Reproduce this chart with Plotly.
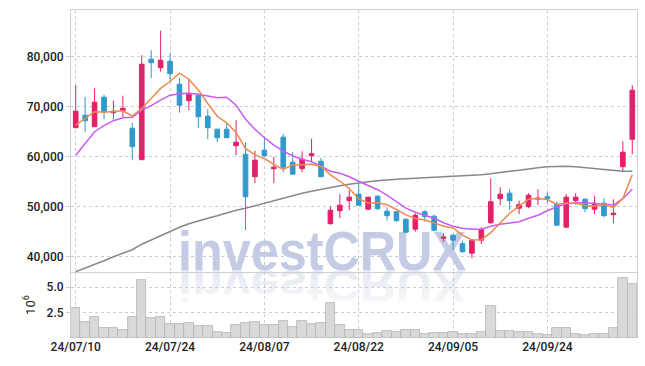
import base64
import plotly.graph_objects as go

dates = [
    "24/07/10", "24/07/11", "24/07/12", "24/07/15", "24/07/16", "24/07/17", "24/07/18", "24/07/19", "24/07/22", "24/07/23",
    "24/07/24", "24/07/25", "24/07/26", "24/07/29", "24/07/30", "24/07/31", "24/08/01", "24/08/02", "24/08/05", "24/08/06",
    "24/08/07", "24/08/08", "24/08/09", "24/08/12", "24/08/13", "24/08/14", "24/08/16", "24/08/19", "24/08/20", "24/08/21",
    "24/08/22", "24/08/23", "24/08/26", "24/08/27", "24/08/28", "24/08/29", "24/08/30", "24/09/02", "24/09/03", "24/09/04",
    "24/09/05", "24/09/06", "24/09/09", "24/09/10", "24/09/11", "24/09/12", "24/09/13", "24/09/19", "24/09/20", "24/09/23",
    "24/09/24", "24/09/25", "24/09/26", "24/09/27", "24/09/30", "24/10/02", "24/10/04", "24/10/07", "24/10/08", "24/10/10",
]
tick_labels = ["24/07/10", "24/07/24", "24/08/07", "24/08/22", "24/09/05", "24/09/24"]

open_ = [65800, 68300, 66000, 71900, 68800, 69200, 65700, 59400, 79500, 77800,
         79100, 74500, 71200, 72300, 68100, 65500, 65500, 62200, 60500, 56000,
         61300, 57600, 63900, 58900, 57600, 60200, 59100, 46600, 49200, 51200,
         52500, 49500, 52100, 49100, 49000, 47500, 45500, 49000, 48100, 43700,
         44300, 42600, 40700, 43300, 46800, 51600, 52700, 49700, 50000, 51500,
         52000, 50500, 45900, 51200, 51500, 49500, 50700, 48400, 58000, 63500]
high = [74300, 72000, 73700, 72400, 71200, 72200, 66800, 80300, 81300, 85200,
        80700, 75700, 75500, 72600, 69500, 65600, 66800, 67300, 62900, 61200,
        64000, 60000, 64500, 60900, 61100, 63600, 59800, 50100, 52500, 53300,
        54700, 52000, 52300, 49900, 49100, 47600, 48700, 49300, 48400, 44700,
        44500, 43200, 43500, 45900, 55700, 53900, 53500, 51200, 52700, 53500,
        52900, 51000, 52500, 52700, 51700, 52200, 51700, 51500, 63100, 74300]
low = [65700, 65000, 65900, 67500, 67500, 67900, 59300, 59400, 75700, 77000,
       75000, 68800, 69300, 65700, 63500, 62900, 63700, 60300, 45300, 54700,
       60000, 54700, 56900, 56400, 56900, 59000, 55900, 46400, 47700, 49300,
       50200, 49300, 49300, 47200, 47000, 44800, 45000, 47000, 45100, 43000,
       41300, 40800, 39700, 42500, 46500, 50300, 49300, 48500, 49700, 50300,
       50700, 46200, 45700, 50400, 48900, 48500, 47900, 46700, 56900, 60500]
close = [69100, 67200, 70900, 69000, 69100, 69700, 62000, 78500, 78800, 79300,
         76600, 70300, 72500, 68000, 65800, 63800, 63800, 62900, 52000, 59300,
         60200, 57900, 57900, 56500, 59500, 60600, 56000, 49300, 50300, 51900,
         50300, 51900, 49600, 48200, 47200, 44900, 48300, 48000, 45300, 43900,
         43300, 41000, 43300, 45500, 51000, 52500, 51200, 50400, 52300, 51700,
         51600, 46300, 51900, 51900, 49600, 50700, 48200, 48700, 60900, 73300]

ma_short = [66300, 67600, 69000, 68900, 69060, 69180, 68140, 69660, 71620, 73660,
            75040, 76700, 75500, 73340, 70640, 68080, 66780, 64860, 61660, 60360,
            59640, 58460, 57460, 58360, 58400, 58480, 58100, 56380, 55140, 53620,
            51560, 50740, 50800, 50380, 49440, 48360, 47640, 47320, 46740, 46080,
            45760, 44300, 43360, 43400, 44820, 46660, 48700, 50120, 51480, 51620,
            51440, 50460, 50760, 50680, 50260, 50080, 50460, 49820, 51620, 56360]
ma_mid = [60300, 62700, 65000, 66200, 67200, 67800, 67900, 69300, 70200, 71300,
          72300, 72600, 72700, 72500, 72100, 71800, 71900, 70300, 67500, 65500,
          63800, 62300, 61100, 60200, 59500, 59000, 58100, 57100, 56700, 56000,
          55100, 54300, 53400, 52300, 51000, 49700, 48900, 48300, 47700, 46800,
          46100, 45700, 45500, 45500, 46100, 46500, 46800, 47000, 47700, 48300,
          49200, 50000, 50600, 50800, 50800, 50700, 50500, 50300, 51600, 53500]
ma_long = [37000, 37700, 38500, 39200, 40000, 40700, 41400, 42500, 43340, 44300,
           45150, 45900, 46600, 47200, 47700, 48200, 48800, 49300, 49700, 50200,
           50700, 51300, 51700, 52200, 52700, 53100, 53500, 53900, 54200, 54500,
           54800, 55000, 55200, 55400, 55500, 55600, 55700, 55800, 55900, 56000,
           56100, 56150, 56200, 56400, 56600, 56900, 57100, 57300, 57600, 57800,
           58000, 58100, 58100, 58000, 57800, 57600, 57400, 57200, 57100, 57100]

volume_m = [2.93, 1.58, 2.04, 0.96, 0.96, 0.76, 2.04, 5.70, 1.94, 2.04,
            1.38, 1.38, 1.45, 1.15, 1.15, 0.59, 0.46, 1.25, 1.45, 1.55,
            1.25, 1.25, 1.65, 1.05, 1.65, 1.38, 1.45, 3.42, 1.25, 0.79,
            0.79, 0.39, 0.52, 0.72, 0.62, 0.79, 0.79, 0.39, 0.52, 0.52,
            0.62, 0.39, 0.39, 0.62, 3.16, 0.72, 0.72, 0.58, 0.58, 0.39,
            0.26, 0.98, 0.98, 0.39, 0.26, 0.39, 0.39, 0.98, 5.92, 5.33]

UP = "#e4206b"
DOWN = "#3399cc"
GRID = "#c9ccdf"
FRAME = "#d0d0d0"
FONT = "Roboto"

fig = go.Figure()

fig.add_trace(go.Scatter(x=dates, y=ma_long, mode="lines", line=dict(color="#888888", width=1.5),
                         xaxis="x", yaxis="y", hoverinfo="skip", showlegend=False))
fig.add_trace(go.Scatter(x=dates, y=ma_mid, mode="lines", line=dict(color="#c95cef", width=1.5),
                         xaxis="x", yaxis="y", hoverinfo="skip", showlegend=False))
fig.add_trace(go.Scatter(x=dates, y=ma_short, mode="lines", line=dict(color="#ef8a4e", width=1.5),
                         xaxis="x", yaxis="y", hoverinfo="skip", showlegend=False))
fig.add_trace(go.Candlestick(
    x=dates, open=open_, high=high, low=low, close=close,
    increasing=dict(line=dict(color=UP, width=1), fillcolor=UP),
    decreasing=dict(line=dict(color=DOWN, width=1), fillcolor=DOWN),
    whiskerwidth=0, xaxis="x", yaxis="y", showlegend=False))
fig.add_trace(go.Bar(x=dates, y=volume_m, marker=dict(color="#d9d9d9", line=dict(color="#b4b4b4", width=0.8)),
                     xaxis="x2", yaxis="y2", showlegend=False))

# watermark with reflection as an inline SVG image
svg = """<svg xmlns="http://www.w3.org/2000/svg" width="290" height="100" viewBox="0 0 290 100">
<defs><linearGradient id="g" x1="0" y1="0" x2="0" y2="1">
<stop offset="0" stop-color="#dfe2ee" stop-opacity="0.15"/>
<stop offset="1" stop-color="#dfe2ee" stop-opacity="0.95"/></linearGradient></defs>
<text x="0" y="44" font-family="Liberation Sans, Arial, sans-serif" font-weight="bold" font-size="55"
 fill="#c4cbe5" textLength="288" lengthAdjust="spacingAndGlyphs">investCRUX</text>
<g transform="translate(0,79.2) scale(1,-0.8)">
<text x="0" y="44" font-family="Liberation Sans, Arial, sans-serif" font-weight="bold" font-size="55"
 fill="url(#g)" textLength="288" lengthAdjust="spacingAndGlyphs">investCRUX</text></g>
</svg>"""
src = "data:image/svg+xml;base64," + base64.b64encode(svg.encode()).decode()

L, R, T, B = 71, 8, 10, 28
W, H = 645, 366
pw, ph = W - L - R, H - T - B
vol_frac = 66 / ph

fig.add_layout_image(dict(source=src, xref="paper", yref="paper",
                          x=(178 - L) / pw, y=1 - (226 - T) / ph,
                          sizex=290 / pw, sizey=100 / ph,
                          xanchor="left", yanchor="top", sizing="stretch", layer="below"))

tickfont = dict(family=FONT, size=12, color="#222222", weight=500)

fig.update_layout(
    width=W, height=H,
    margin=dict(l=L, r=R, t=T, b=B, autoexpand=False),
    paper_bgcolor="white", plot_bgcolor="rgba(0,0,0,0)",
    bargap=0,
    hovermode=False,
    xaxis=dict(type="category", categoryorder="array", categoryarray=dates, range=[-0.5, 59.5],
               domain=[0, 1], anchor="y", rangeslider=dict(visible=False),
               tickvals=tick_labels, showticklabels=False, ticks="",
               showgrid=True, gridcolor=GRID, griddash="dot", gridwidth=1,
               showline=True, linecolor=FRAME, linewidth=1, mirror=True, zeroline=False),
    yaxis=dict(domain=[vol_frac, 1], anchor="x", range=[36940, 89340],
               tickvals=[40000, 50000, 60000, 70000, 80000], tickformat=",d",
               tickfont=tickfont, ticks="outside", ticklen=4, tickcolor=FRAME,
               showgrid=True, gridcolor=GRID, griddash="dot", gridwidth=1, automargin=False,
               showline=True, linecolor=FRAME, linewidth=1, mirror=True, zeroline=False),
    xaxis2=dict(type="category", categoryorder="array", categoryarray=dates, range=[-0.5, 59.5],
                domain=[0, 1], anchor="y2", tickvals=tick_labels, ticktext=tick_labels,
                tickfont=tickfont, ticks="", tickangle=0, automargin=False,
                showgrid=True, gridcolor=GRID, griddash="dot", gridwidth=1,
                showline=False, zeroline=False),
    yaxis2=dict(domain=[0, vol_frac], anchor="x2", range=[0, 6.5],
                tickvals=[2.5, 5.0], ticktext=["2.5", "5.0"],
                tickfont=tickfont, ticks="outside", ticklen=4, tickcolor=FRAME, automargin=False,
                showgrid=True, gridcolor=GRID, griddash="dot", gridwidth=1,
                showline=True, linecolor=FRAME, linewidth=1, mirror=True, zeroline=False,
                title=dict(text="10<sup>6</sup>", font=dict(family=FONT, size=13, color="#222222"), standoff=8)),
)

fig.write_html("out.html", config={"displayModeBar": False},
               post_script="document.body.style.margin='0';")
